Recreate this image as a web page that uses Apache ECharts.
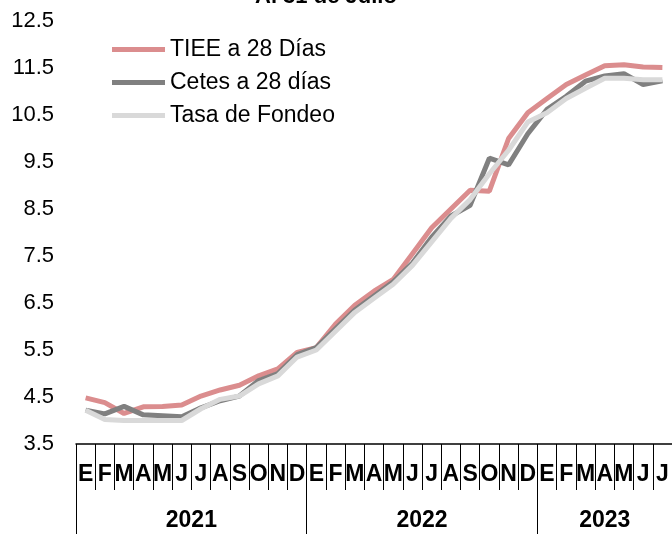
<!DOCTYPE html>
<html>
<head>
<meta charset="utf-8">
<script src="https://cdn.jsdelivr.net/npm/echarts@6/dist/echarts.min.js"></script>
<style>
  html, body { margin: 0; padding: 0; background: #fff; }
  #chart { width: 672px; height: 534px; }
</style>
</head>
<body>
<div id="chart"></div>
<script>
var months = ['E','F','M','A','M','J','J','A','S','O','N','D',
              'E','F','M','A','M','J','J','A','S','O','N','D',
              'E','F','M','A','M','J','J'];
var years = ['2021', '2022', '2023'];
// where each year starts / ends and where its label sits, in half-month steps
var yearBreaks = [0, 24, 48, 62];
var yearLabelAt = [12, 36, 55];

var tiee = [4.48, 4.38, 4.15, 4.29, 4.30, 4.33, 4.52, 4.65, 4.75, 4.95, 5.10, 5.45,
            5.55, 6.05, 6.45, 6.75, 7.00, 7.55, 8.10, 8.50, 8.90, 8.88, 10.00, 10.55,
            10.85, 11.15, 11.35, 11.55, 11.57, 11.52, 11.51];
var cetes = [4.22, 4.14, 4.30, 4.12, 4.10, 4.08, 4.27, 4.42, 4.52, 4.85, 5.00, 5.40,
             5.55, 5.95, 6.35, 6.65, 6.95, 7.35, 7.90, 8.35, 8.58, 9.58, 9.44, 10.10,
             10.62, 10.90, 11.22, 11.33, 11.38, 11.15, 11.23];
var fondeo = [4.22, 4.02, 4.00, 4.00, 4.00, 4.00, 4.25, 4.45, 4.52, 4.78, 4.95, 5.35,
              5.50, 5.90, 6.30, 6.60, 6.90, 7.30, 7.80, 8.30, 8.70, 9.25, 9.75, 10.35,
              10.55, 10.85, 11.07, 11.28, 11.28, 11.25, 11.25];

var halfSteps = [];
for (var i = 0; i <= 62; i++) {
    var k = yearLabelAt.indexOf(i);
    halfSteps.push(k >= 0 ? years[k] : '');
}

var font = 'Liberation Sans, Arial, sans-serif';
var myChart = echarts.init(document.getElementById('chart'));
var option = {
    animation: false,
    title: {
        text: 'Al 31 de Julio',
        left: 250,
        top: -19,
        textStyle: { fontFamily: font, fontSize: 22, fontWeight: 'bold', color: '#000' }
    },
    legend: {
        orient: 'vertical',
        left: 112,
        top: 38,
        padding: 0,
        itemGap: 10,
        itemWidth: 53,
        itemHeight: 5,
        icon: 'rect',
        textStyle: { fontFamily: font, fontSize: 23, color: '#000' },
        data: ['TIEE a 28 Días', 'Cetes a 28 días', 'Tasa de Fondeo']
    },
    grid: { left: 76, right: 0, top: 21, bottom: 90 },
    xAxis: [
        {
            type: 'category',
            data: months,
            position: 'bottom',
            axisLine: { lineStyle: { color: '#000', width: 1.5 } },
            axisTick: { show: true, interval: 0, length: 46, lineStyle: { color: '#000', width: 1 } },
            axisLabel: { interval: 0, margin: 19, fontFamily: font, fontSize: 23, fontWeight: 'bold', color: '#000' }
        },
        {
            type: 'category',
            data: halfSteps,
            position: 'bottom',
            boundaryGap: false,
            axisLine: { show: false },
            axisTick: {
                show: true, length: 92,
                interval: function (idx) { return yearBreaks.indexOf(idx) >= 0; },
                lineStyle: { color: '#000', width: 1 }
            },
            axisLabel: {
                margin: 65,
                interval: function (idx, val) { return val !== ''; },
                fontFamily: font, fontSize: 23, fontWeight: 'bold', color: '#000'
            }
        }
    ],
    yAxis: {
        type: 'value',
        min: 3.5,
        max: 12.5,
        interval: 1,
        axisLine: { show: false },
        axisTick: { show: false },
        splitLine: { show: false },
        axisLabel: { margin: 22, fontFamily: font, fontSize: 22, color: '#000' }
    },
    series: [
        { name: 'TIEE a 28 Días', type: 'line', data: tiee, symbol: 'none',
          itemStyle: { color: '#DB8D8E' }, lineStyle: { color: '#DB8D8E', width: 5 } },
        { name: 'Cetes a 28 días', type: 'line', data: cetes, symbol: 'none',
          itemStyle: { color: '#808080' }, lineStyle: { color: '#808080', width: 5 } },
        { name: 'Tasa de Fondeo', type: 'line', data: fondeo, symbol: 'none',
          itemStyle: { color: '#D9D9D9' }, lineStyle: { color: '#D9D9D9', width: 5 } }
    ]
};
myChart.setOption(option);
</script>
</body>
</html>
